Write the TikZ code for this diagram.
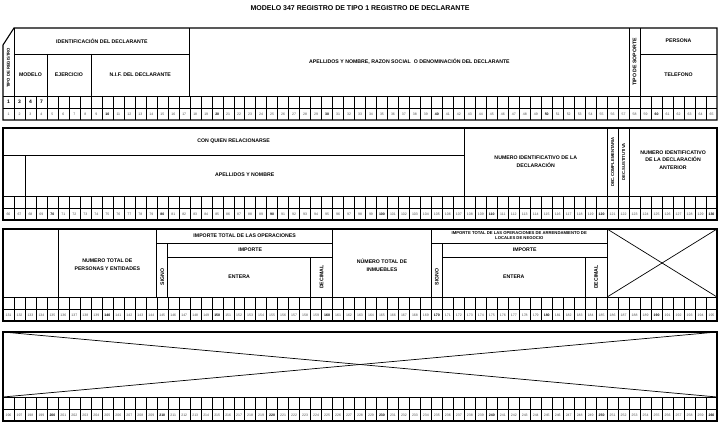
\documentclass[tikz,border=0pt]{standalone}
\usepackage{fontspec}
\setmainfont{Liberation Sans}
\begin{document}
\begin{tikzpicture}[x=1pt,y=-1pt,
  declare function={cx(\i)=3+(\i-1)*10.9846;},
  frame/.style={line width=1.1pt,line join=miter},
  mid/.style={line width=0.7pt},
  cell/.style={line width=0.35pt},
  lab/.style={font=\fontsize{5.2}{6.2}\selectfont\bfseries,align=center,inner sep=0pt},
  small/.style={font=\fontsize{4.2}{4.6}\selectfont\bfseries,align=center,inner sep=0pt},
  num/.style={font=\fontsize{3.5}{4}\selectfont,inner sep=0pt,text=black!70},
  val/.style={font=\fontsize{5}{6}\selectfont\bfseries,inner sep=0pt}]
\useasboundingbox (0,0) rectangle (720,428);
\node[font=\fontsize{7}{8}\selectfont\bfseries] (title) at (360,8) {MODELO 347 REGISTRO DE TIPO 1 REGISTRO DE DECLARANTE};
% common grid rows
\foreach \T/\L/\n in {28/96/1,128/196/66,229/297/131,332/397/196}{
  \draw[mid] ({cx(1)},\L) -- ({cx(66)},\L);
  \draw[cell] ({cx(1)},{\L+12}) -- ({cx(66)},{\L+12});
  \foreach \i in {2,...,65} \draw[cell] ({cx(\i)},\L) -- ({cx(\i)},{\L+24});
  \foreach \i in {1,...,65}{
    \pgfmathtruncatemacro\num{\n+\i-1}
    \pgfmathtruncatemacro\md{mod(\num,10)}
    \node[num] (n\num) at ({cx(\i)+5.49},{\L+18.2}) {\ifnum\md=0 \bfseries\color{black}\fi\num};
  }
}
% ---------- Section 1
\draw[frame] ({cx(1)},45) -- ({cx(2)},28) -- ({cx(66)},28) -- ({cx(66)},120) -- ({cx(1)},120) -- cycle;
\draw[mid] ({cx(2)},28) -- ({cx(2)},96);
\draw[mid] ({cx(2)},54) -- ({cx(18)},54);
\draw[mid] ({cx(5)},54) -- ({cx(5)},96);
\draw[mid] ({cx(9)},54) -- ({cx(9)},96);
\draw[mid] ({cx(18)},28) -- ({cx(18)},96);
\draw[mid] ({cx(58)},28) -- ({cx(58)},96);
\draw[mid] ({cx(59)},28) -- ({cx(59)},96);
\draw[mid] ({cx(59)},54) -- ({cx(66)},54);
\node[small,rotate=90] (tiporeg) at ({cx(1)+5.5},68) {TIPO DE REGISTRO};
\node[lab] (ident) at ({(cx(2)+cx(18))/2},41) {IDENTIFICACIÓN DEL DECLARANTE};
\node[lab] (modelo) at ({(cx(2)+cx(5))/2},75) {MODELO};
\node[lab] (ejer) at ({(cx(5)+cx(9))/2},75) {EJERCICIO};
\node[lab] (nif) at ({(cx(9)+cx(18))/2},75) {N.I.F. DEL DECLARANTE};
\node[lab] (apell) at ({(cx(18)+cx(58))/2},62) {APELLIDOS Y NOMBRE, RAZON SOCIAL\ \ O DENOMINACIÓN DEL DECLARANTE};
\node[lab,rotate=90] (soporte) at ({cx(58)+5.5},62) {TIPO DE SOPORTE};
\node[lab] (persona) at ({(cx(59)+cx(66))/2},41) {PERSONA};
\node[lab] (telef) at ({(cx(59)+cx(66))/2},75) {TELEFONO};
\node[val] (v1) at ({cx(1)+5.5},102) {1};
\node[val] (v2) at ({cx(2)+5.5},102) {3};
\node[val] (v3) at ({cx(3)+5.5},102) {4};
\node[val] (v4) at ({cx(4)+5.5},102) {7};
% ---------- Section 2
\draw[frame] ({cx(1)},128) rectangle ({cx(66)},220);
\draw[mid] ({cx(1)},155) -- ({cx(43)},155);
\draw[mid] ({cx(3)},155) -- ({cx(3)},196);
\foreach \c in {43,56,57,58} \draw[mid] ({cx(\c)},128) -- ({cx(\c)},196);
\node[lab] (conquien) at ({(cx(1)+cx(43))/2},141) {CON QUIEN RELACIONARSE};
\node[lab] (apell2) at ({(cx(3)+cx(43))/2},175) {APELLIDOS Y NOMBRE};
\node[lab] (numid) at ({(cx(43)+cx(56))/2},162) {NUMERO IDENTIFICATIVO DE LA\\[1.5pt]DECLARACIÓN};
\node[small,rotate=90] (comp) at ({cx(56)+5.5},162) {DEC.COMPLEMENTARIA};
\node[small,rotate=90] (sust) at ({cx(57)+5.5},162) {DEC.SUSTITUTIVA};
\node[lab] (numant) at ({(cx(58)+cx(66))/2},160) {NUMERO IDENTIFICATIVO\\[1.5pt]DE LA DECLARACIÓN\\[1.5pt]ANTERIOR};
% ---------- Section 3
\draw[frame] ({cx(1)},229) rectangle ({cx(66)},321);
\foreach \c in {6,15,31,40,56} \draw[mid] ({cx(\c)},229) -- ({cx(\c)},297);
\foreach \c in {16,41} \draw[mid] ({cx(\c)},243) -- ({cx(\c)},297);
\foreach \c in {29,54} \draw[mid] ({cx(\c)},257) -- ({cx(\c)},297);
\draw[mid] ({cx(15)},243) -- ({cx(31)},243);
\draw[mid] ({cx(16)},257) -- ({cx(31)},257);
\draw[mid] ({cx(40)},243) -- ({cx(56)},243);
\draw[mid] ({cx(41)},257) -- ({cx(56)},257);
\draw[mid] ({cx(56)},229) -- ({cx(66)},297);
\draw[mid] ({cx(56)},297) -- ({cx(66)},229);
\node[lab] (numpers) at ({(cx(6)+cx(15))/2},265) {NUMERO TOTAL DE\\[1.5pt]PERSONAS Y ENTIDADES};
\node[lab] (imptot) at ({(cx(15)+cx(31))/2},236) {IMPORTE TOTAL DE LAS OPERACIONES};
\node[lab,rotate=90] (signo1) at ({cx(15)+5.5},277) {SIGNO};
\node[lab] (imp1) at ({(cx(16)+cx(31))/2},250) {IMPORTE};
\node[lab] (ent1) at ({(cx(16)+cx(29))/2},277) {ENTERA};
\node[lab,rotate=90] (dec1) at ({cx(30)},277) {DECIMAL};
\node[lab] (inmue) at ({(cx(31)+cx(40))/2},265) {NÚMERO TOTAL DE\\[1.5pt]INMUEBLES};
\node[small] (arrend) at ({(cx(40)+cx(56))/2},236) {IMPORTE TOTAL DE LAS OPERACIONES DE ARRENDAMIENTO DE\\[0.5pt]LOCALES DE NEGOCIO};
\node[lab,rotate=90] (signo2) at ({cx(40)+5.5},277) {SIGNO};
\node[lab] (imp2) at ({(cx(41)+cx(56))/2},250) {IMPORTE};
\node[lab] (ent2) at ({(cx(41)+cx(54))/2},277) {ENTERA};
\node[lab,rotate=90] (dec2) at ({cx(55)},277) {DECIMAL};
% ---------- Section 4
\draw[frame] ({cx(1)},332) rectangle ({cx(66)},421);
\draw[mid] ({cx(1)},332) -- ({cx(66)},397);
\draw[mid] ({cx(1)},397) -- ({cx(66)},332);
\end{tikzpicture}
\end{document}
